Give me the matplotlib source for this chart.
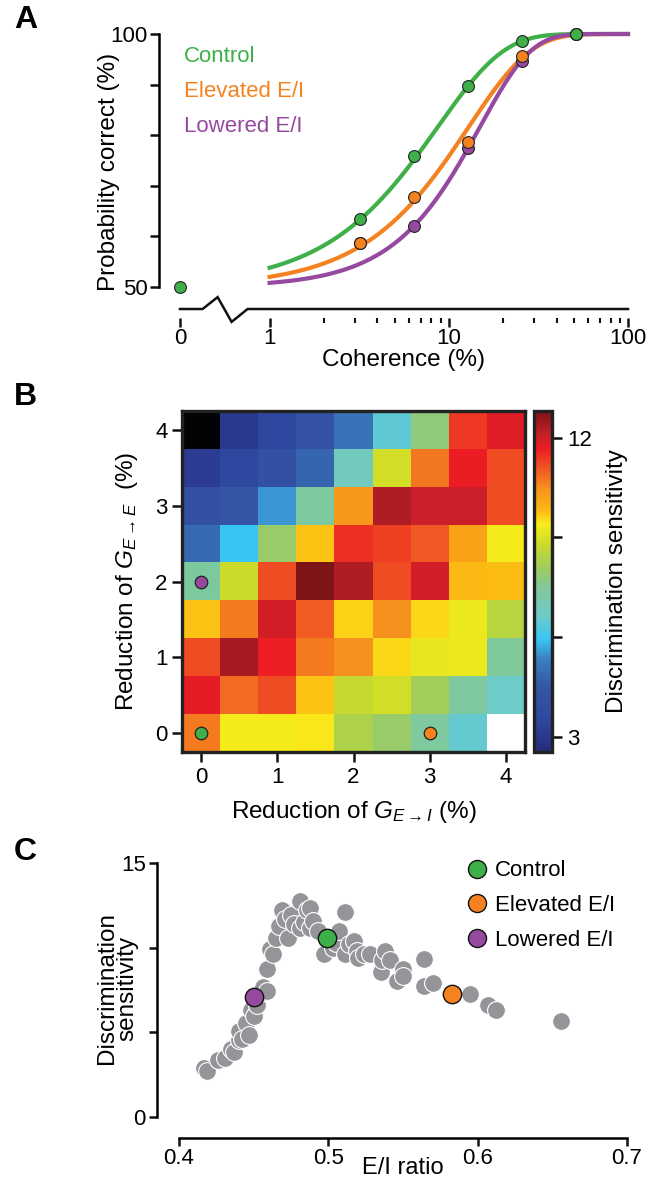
"""Three-panel figure: psychometric curves, E/I heatmap, sensitivity vs E/I ratio."""
import numpy as np
import matplotlib; matplotlib.use("Agg")
import matplotlib.pyplot as plt
from matplotlib.colors import LinearSegmentedColormap
from matplotlib.lines import Line2D
import matplotlib.transforms as mtransforms

plt.rcParams["font.family"] = ["Liberation Sans", "DejaVu Sans"]
plt.rcParams["mathtext.fontset"] = "custom"
plt.rcParams["mathtext.rm"] = "Liberation Sans"
plt.rcParams["mathtext.it"] = "Liberation Sans:italic"

GREEN, ORANGE, PURPLE, GREY = "#3fb049", "#f58220", "#964a9f", "#939598"

# ── Panel A data ──────────────────────────────────────────────────────
coherence = [3.2, 6.4, 12.8, 25.6, 51.2]
pc_control = [63.4, 75.9, 89.7, 98.7, 100.0]
pc_elevated = [58.6, 67.7, 78.6, 95.6, 100.0]
pc_lowered = [58.6, 62.1, 77.4, 94.7, 100.0]
pc_zero_control = 50.0
# Weibull fit parameters (threshold alpha, slope beta) per condition
fit_alpha = [8.67, 12.9, 14.9]
fit_beta = [1.175, 1.25, 1.52]
cond_names = ["Control", "Elevated E/I", "Lowered E/I"]

# ── Panel B data ──────────────────────────────────────────────────────
g_ei = [0, 0.5, 1, 1.5, 2, 2.5, 3, 3.5, 4]
g_ee = [4, 3.5, 3, 2.5, 2, 1.5, 1, 0.5, 0]   # rows, top to bottom
ds_grid = [
    [2.0, 3.06, 3.58, 4.29, 5.11, 6.45, 7.78, 11.37, 11.83],
    [3.17, 3.58, 4.19, 4.8, 6.86, 8.9, 10.75, 11.67, 11.16],
    [4.19, 4.5, 5.52, 7.37, 10.39, 12.29, 12.03, 12.03, 11.16],
    [4.91, 5.93, 7.98, 9.73, 11.47, 11.31, 11.06, 10.19, 9.37],
    [7.37, 8.8, 11.16, 12.8, 12.29, 11.16, 11.93, 9.83, 9.78],
    [9.73, 10.7, 11.93, 11.01, 9.62, 10.44, 9.57, 9.26, 8.5],
    [11.16, 12.39, 11.62, 10.7, 10.44, 9.57, 9.16, 9.26, 7.47],
    [11.72, 10.85, 11.16, 9.73, 8.7, 8.9, 8.14, 7.42, 6.65],
    [10.7, 9.37, 9.37, 9.47, 8.34, 7.98, 7.42, 6.55, np.nan],
]
# (G_E->I, G_E->E) of the three highlighted conditions
mark_ei = [0, 3, 0]
mark_ee = [0, 0, 2]

# ── Panel C data ──────────────────────────────────────────────────────
ei_ratio = [0.417, 0.419, 0.426, 0.431, 0.435, 0.437, 0.440, 0.440, 0.442,
            0.445, 0.447, 0.448, 0.450, 0.452, 0.454, 0.456, 0.459, 0.459,
            0.461, 0.463, 0.465, 0.467, 0.469, 0.471, 0.473, 0.475, 0.477,
            0.481, 0.481, 0.484, 0.486, 0.488, 0.488, 0.490, 0.493, 0.497,
            0.503, 0.505, 0.507, 0.511, 0.511, 0.514, 0.517, 0.519, 0.520,
            0.524, 0.528, 0.535, 0.536, 0.538, 0.541, 0.546, 0.550, 0.550,
            0.564, 0.564, 0.570, 0.595, 0.607, 0.612, 0.656]
sens = [2.92, 2.72, 3.38, 3.50, 4.00, 3.85, 4.55, 5.05, 4.60,
        5.55, 4.85, 6.30, 5.95, 6.60, 7.30, 7.65, 7.45, 8.75,
        9.90, 9.60, 10.60, 11.30, 12.25, 11.70, 10.60, 11.95, 11.40,
        12.75, 11.15, 11.50, 12.20, 12.35, 11.15, 11.60, 11.00, 9.65,
        10.00, 10.30, 11.00, 12.10, 9.65, 10.20, 10.40, 9.80, 9.40,
        9.60, 9.65, 8.55, 9.25, 9.80, 9.25, 8.05, 8.75, 8.35,
        9.35, 7.75, 7.90, 7.28, 6.60, 6.30, 5.67]
hl_ei = [0.499, 0.583, 0.450]
hl_sens = [10.6, 7.26, 7.08]

W, H = 660, 1181
fig = plt.figure(figsize=(W / 100, H / 100), dpi=100)
fig.patch.set_facecolor("white")

def rect(x0, y0, x1, y1):
    return [x0 / W, 1 - y1 / H, (x1 - x0) / W, (y1 - y0) / H]

LW = 1.8
TICK = 16
LAB = 17.5

# ── A ─────────────────────────────────────────────────────────────────
axA = fig.add_axes(rect(180, 34, 628, 287))
ZERO_U = -0.5   # where coherence 0 sits left of the log axis

def cu(c):
    c = np.asarray(c, dtype=float)
    return np.where(c > 0, np.log10(np.maximum(c, 1e-9)), ZERO_U)

cols = [GREEN, ORANGE, PURPLE]
cfit = np.logspace(0, 2, 300)
for a, b, col in zip(fit_alpha, fit_beta, cols):
    p = 100 * (1 - 0.5 * np.exp(-(cfit / a) ** b))
    axA.plot(np.log10(cfit), p, color=col, lw=3.0, zorder=2, clip_on=False)

for pcs, col in [(pc_lowered, PURPLE), (pc_elevated, ORANGE), (pc_control, GREEN)]:
    axA.plot(cu(coherence), pcs, "o", ms=8.5, mfc=col, mec="#222222", mew=0.8,
             zorder=4, clip_on=False)
axA.plot(cu([0]), [pc_zero_control], "o", ms=8.5, mfc=GREEN, mec="#222222",
         mew=0.8, zorder=4, clip_on=False)

axA.set_xlim(ZERO_U, 2)
axA.set_ylim(50, 100)
for s in ["top", "right"]:
    axA.spines[s].set_visible(False)
axA.spines["left"].set_position(("outward", 15))
axA.spines["left"].set_linewidth(LW)
axA.spines["bottom"].set_position(("outward", 22))
axA.spines["bottom"].set_color("none")
axA.set_yticks(np.arange(50, 101, 10))
axA.set_yticklabels(["50", "", "", "", "", "100"])
axA.set_xticks([ZERO_U, 0, 1, 2])
axA.set_xticklabels(["0", "1", "10", "100"])
minor = np.log10(np.r_[np.arange(2, 10), np.arange(20, 100, 10)])
axA.set_xticks(minor, minor=True)
axA.tick_params(axis="both", which="major", length=6.5, width=LW,
                labelsize=TICK, color="#111111")
axA.tick_params(axis="x", which="minor", length=3.5, width=1.5, color="#111111")
axA.tick_params(axis="y", pad=2)
axA.tick_params(axis="x", pad=1)

# broken x axis line
trA = mtransforms.blended_transform_factory(axA.transData, axA.transAxes)
brk_x = [ZERO_U, -0.374, -0.29, -0.212, -0.123, 2.0]
brk_y = [-0.087, -0.087, -0.04, -0.138, -0.087, -0.087]
axA.plot(brk_x, brk_y, color="#111111", lw=LW, transform=trA, clip_on=False,
         solid_joinstyle="miter")

axA.set_xlabel("Coherence (%)", fontsize=LAB)
axA.xaxis.set_label_coords(0.5, -0.247)
axA.set_ylabel("Probability correct (%)", fontsize=LAB)
axA.yaxis.set_label_coords(-0.134, 0.455)
for i, (name, col) in enumerate(zip(cond_names, cols)):
    axA.text(0.008, 0.91 - i * 0.137, name, color=col, fontsize=16,
             transform=axA.transAxes, va="center", ha="left")

# ── B ─────────────────────────────────────────────────────────────────
axB = fig.add_axes(rect(182, 411, 525, 752))
cstops = [
    (0.0, "#262b7e"), (0.10, "#2f49a0"), (0.19, "#3556a5"), (0.27, "#3a7fc1"),
    (0.33, "#38c6f4"), (0.40, "#6dcbc8"), (0.48, "#80c99a"), (0.545, "#a2cd5a"),
    (0.61, "#cbdb2a"), (0.67, "#f9ed1a"), (0.71, "#fdb813"), (0.77, "#f7941d"),
    (0.83, "#f15a24"), (0.89, "#ed1c24"), (0.93, "#c8202a"), (1.0, "#7f1417"),
]
cmap = LinearSegmentedColormap.from_list("ds", cstops)
cmap.set_under("#020304")
cmap.set_bad("white")
grid = np.ma.masked_invalid(np.array(ds_grid, dtype=float))
im = axB.imshow(grid, cmap=cmap, vmin=2.55, vmax=12.8, origin="upper",
                extent=(g_ei[0] - 0.25, g_ei[-1] + 0.25, g_ee[-1] - 0.25, g_ee[0] + 0.25),
                aspect="auto", interpolation="nearest")
for x, y, col in zip(mark_ei, mark_ee, [GREEN, ORANGE, PURPLE]):
    axB.plot(x, y, "o", ms=9, mfc=col, mec="#222222", mew=0.9, zorder=5)
axB.set_xticks([0, 1, 2, 3, 4])
axB.set_yticks([0, 1, 2, 3, 4])
for s in axB.spines.values():
    s.set_linewidth(2.4)
    s.set_color("#222222")
axB.tick_params(length=7, width=LW, labelsize=TICK, color="#111111")
axB.tick_params(axis="x", pad=4)
axB.set_xlabel(r"Reduction of $G_{E\rightarrow I}$ (%)", fontsize=LAB)
axB.xaxis.set_label_coords(0.5, -0.138)
axB.set_ylabel(r"Reduction of $G_{E\rightarrow E}$  (%)", fontsize=LAB)
axB.yaxis.set_label_coords(-0.122, 0.5)

cax = fig.add_axes(rect(534, 411, 552, 752))
cb = fig.colorbar(im, cax=cax, ticks=[3, 6, 9, 12])
cb.ax.set_yticklabels(["3", "", "", "12"])
cb.outline.set_linewidth(2.4)
cb.outline.set_edgecolor("#222222")
cb.ax.tick_params(length=7, width=LW, labelsize=TICK, color="#111111", pad=4)
cb.set_label("Discrimination sensitivity", fontsize=LAB, labelpad=10)

# ── C ─────────────────────────────────────────────────────────────────
axC = fig.add_axes(rect(179, 863, 627, 1117))
axC.scatter(ei_ratio, sens, s=165, c=GREY, edgecolors="white", linewidths=0.8,
            zorder=2, clip_on=False)
for x, y, col in zip(hl_ei, hl_sens, cols):
    axC.scatter([x], [y], s=175, c=col, edgecolors="#111111", linewidths=1.0,
                zorder=3, clip_on=False)
axC.set_xlim(0.4, 0.7)
axC.set_ylim(0, 15)
for s in ["top", "right"]:
    axC.spines[s].set_visible(False)
axC.spines["left"].set_position(("outward", 16))
axC.spines["bottom"].set_position(("outward", 15))
for s in ["left", "bottom"]:
    axC.spines[s].set_linewidth(LW)
axC.set_yticks([0, 5, 10, 15])
axC.set_yticklabels(["0", "", "", "15"])
axC.set_xticks([0.4, 0.5, 0.6, 0.7])
axC.set_xticklabels(["0.4", "0.5", "0.6", "0.7"])
axC.tick_params(length=6, width=LW, labelsize=TICK, color="#111111")
axC.tick_params(axis="x", pad=1)
axC.tick_params(axis="y", pad=2)
axC.set_xlabel("E/I ratio", fontsize=17)
axC.xaxis.set_label_coords(0.5, -0.158)
axC.set_ylabel("Discrimination\nsensitivity", fontsize=LAB, linespacing=0.95)
axC.yaxis.set_label_coords(-0.09, 0.508)
handles = [Line2D([], [], ls="none", marker="o", ms=13, mfc=c, mec="#111111",
                  mew=1.0) for c in cols]
axC.legend(handles, cond_names, loc="upper left", bbox_to_anchor=(0.641, 1.01),
           frameon=False, fontsize=16, handletextpad=0.3, labelspacing=0.62,
           borderaxespad=0, borderpad=0, handlelength=1.0)

# panel letters
for letter, y in [("A", 20), ("B", 397), ("C", 852)]:
    fig.text(14 / W, 1 - y / H, letter, fontsize=23, fontweight="bold",
             va="center", ha="left")

fig.savefig("out.png", dpi=100, facecolor="white")
plt.close(fig)
